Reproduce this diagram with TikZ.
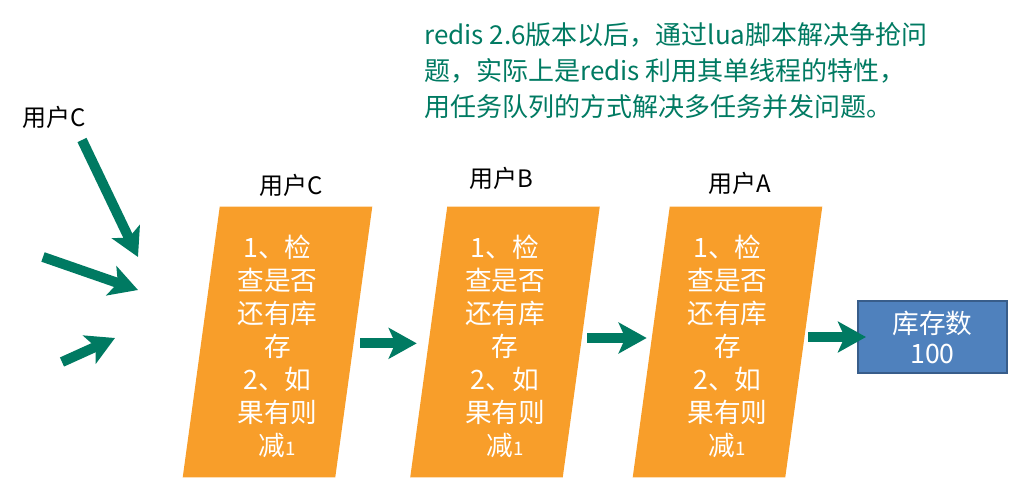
\documentclass[tikz,border=0pt]{standalone}
\usepackage{fontspec}
\setmainfont{Noto Sans CJK SC}
\usetikzlibrary{arrows.meta,calc,backgrounds}
\definecolor{tealgreen}{RGB}{0,122,98}
\definecolor{ocre}{RGB}{248,158,42}
\definecolor{bluebox}{RGB}{79,129,189}
\definecolor{blueedge}{RGB}{56,93,138}
\newcommand{\checktext}{1、检\\查是否\\还有库\\存\\2、如\\果有则\\减{\fontsize{14}{14}\selectfont 1}}

\begin{document}
\begin{tikzpicture}[x=0.75pt,y=-0.75pt,
  flow/.style={tealgreen, line width=7.5pt, -{Stealth[length=21pt,width=23pt,inset=5pt]}},
  checkbox/.style={minimum width=114pt, minimum height=202.5pt, inner sep=0pt,
    align=center, text=white, font=\fontsize{20}{24.75}\selectfont},
  user/.style={font=\fontsize{18}{20}\selectfont, inner sep=0pt},
  store/.style={fill=bluebox, draw=blueedge, line width=1.5pt, minimum width=111.75pt,
    minimum height=54pt, align=center, text=white, font=\fontsize{20}{22.5}\selectfont},
  note/.style={tealgreen, align=left, inner sep=0pt, font=\fontsize{19.5}{27}\selectfont}]
\useasboundingbox (0,0) rectangle (1024,481);

\node[note, anchor=west] (remark) at (424,71) {redis 2.6版本以后，通过lua脚本解决争抢问\\题，实际上是redis 利用其单线程的特性，\\用任务队列的方式解决多任务并发问题。};

\node[user] (userIn) at (54,117) {用户C};

\foreach \name/\cx/\lx/\ly in {C/277.5/291/185, B/505/501/178, A/727.5/740/183} {
  \node[checkbox] (box\name) at (\cx,346) {\checktext};
  \node[user] (user\name) at (\lx,\ly) {用户\name};
}

\begin{scope}[on background layer]
\foreach \name in {C,B,A}
  \fill[ocre] ($(box\name.north west)+(18.5,-4)$) -- ($(box\name.north east)+(18.5,-4)$)
    -- ($(box\name.south east)+(-18.5,-4)$) -- ($(box\name.south west)+(-18.5,-4)$) -- cycle;
\end{scope}

\node[store] (stock) at (932.5,337) {库存数\\100};

% incoming requests
\coordinate (req1) at (82,140);
\coordinate (tip1) at (138,257);
\coordinate (req2) at (43,257);
\coordinate (tip2) at (138,290);
\coordinate (req3) at (62,362);
\coordinate (tip3) at (115,338);
\draw[flow] (req1) -- (tip1);
\draw[flow] (req2) -- (tip2);
\draw[flow] (req3) -- (tip3);

\draw[flow, shorten <=5pt, shorten >=9pt] ([yshift=2pt]boxC.east) -- ([yshift=2pt]boxB.west);
\draw[flow, shorten <=4.5pt, shorten >=3.4pt] ([yshift=6pt]boxB.east) -- ([yshift=6pt]boxA.west);
\draw[flow, shorten <=3.4pt, shorten >=-6.75pt] (boxA.east |- stock.west) -- (stock.west);

\end{tikzpicture}
\end{document}
